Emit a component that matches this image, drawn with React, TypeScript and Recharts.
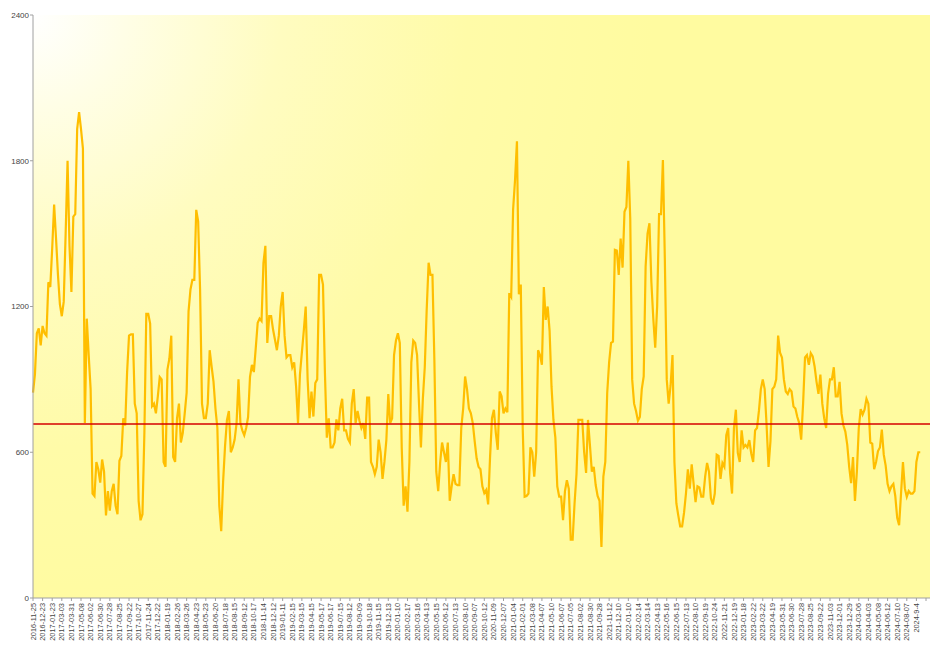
import React from 'react';
import { LineChart, Line, XAxis, YAxis, CartesianGrid, ReferenceLine } from 'recharts';

// Tick labels shown on the category axis (one every 5 samples); last tick has no label
const tickLabels: string[] = [
  '2016-11-25', '2016-12-23',
  '2017-01-23', '2017-03-03', '2017-03-31', '2017-05-08', '2017-06-02', '2017-06-30',
  '2017-07-28', '2017-08-25', '2017-09-22', '2017-10-27', '2017-11-24', '2017-12-22',
  '2018-01-19', '2018-02-26', '2018-03-26', '2018-04-23', '2018-05-23', '2018-06-20',
  '2018-07-18', '2018-08-15', '2018-09-12', '2018-10-17', '2018-11-14', '2018-12-12',
  '2019-01-11', '2019-02-15', '2019-03-15', '2019-04-15', '2019-05-17', '2019-06-17',
  '2019-07-15', '2019-08-12', '2019-09-09', '2019-10-18', '2019-11-15', '2019-12-13',
  '2020-01-10', '2020-02-17', '2020-03-16', '2020-04-13', '2020-05-15', '2020-06-12',
  '2020-07-13', '2020-08-10', '2020-09-07', '2020-10-12', '2020-11-09', '2020-12-07',
  '2021-01-04', '2021-02-01', '2021-03-08', '2021-04-07', '2021-05-10', '2021-06-07',
  '2021-07-05', '2021-08-02', '2021-08-30', '2021-09-28', '2021-11-12', '2021-12-10',
  '2022-01-10', '2022-02-14', '2022-03-14', '2022-04-13', '2022-05-16', '2022-06-15',
  '2022-07-13', '2022-08-10', '2022-09-19', '2022-10-24', '2022-11-21', '2022-12-19',
  '2023-01-18', '2023-02-22', '2023-03-22', '2023-04-19', '2023-05-31', '2023-06-30',
  '2023-07-28', '2023-08-25', '2023-09-22', '2023-11-03', '2023-12-01', '2023-12-29',
  '2024-03-06', '2024-04-03', '2024-05-08', '2024-06-12', '2024-07-10', '2024-08-07',
  '2024-9-4', '',
];

const SAMPLES_PER_TICK = 5;

// Series values (5 samples per labelled tick)
const volume: number[] = [
  845, 920, 1090, 1110, 1040,
  1120, 1090, 1080, 1300, 1280,
  1440, 1620, 1480, 1330, 1210,
  1160, 1220, 1500, 1800, 1450,
  1260, 1570, 1580, 1930, 2000,
  1930, 1850, 720, 1150, 1000,
  860, 430, 420, 560, 530,
  475, 570, 520, 340, 440,
  360, 440, 470, 380, 345,
  565, 585, 740, 710, 930,
  1080, 1085, 1085, 800, 760,
  400, 320, 345, 680, 1170,
  1170, 1130, 790, 800, 760,
  830, 910, 900, 560, 540,
  940, 985, 1080, 580, 560,
  740, 800, 640, 680, 760,
  845, 1180, 1270, 1310, 1310,
  1598, 1550, 1270, 800, 740,
  740, 800, 1020, 953, 890,
  780, 700, 380, 275, 480,
  625, 733, 770, 600, 620,
  652, 720, 900, 720, 690,
  670, 700, 745, 910, 960,
  930, 1030, 1133, 1150, 1140,
  1380, 1450, 1050, 1160, 1160,
  1105, 1063, 1020, 1080, 1200,
  1260, 1080, 990, 1000, 1000,
  950, 970, 870, 720, 920,
  1010, 1100, 1200, 900, 740,
  850, 747, 885, 900, 1330,
  1330, 1290, 930, 660, 740,
  620, 620, 640, 735, 690,
  780, 820, 690, 690, 655,
  640, 800, 860, 720, 770,
  730, 700, 720, 655, 825,
  825, 560, 540, 510, 540,
  652, 600, 490, 560, 650,
  840, 720, 740, 1000, 1060,
  1090, 1050, 620, 380, 460,
  355, 560, 970, 1060, 1050,
  1000, 800, 620, 820, 950,
  1186, 1380, 1330, 1330, 980,
  520, 440, 556, 640, 600,
  560, 640, 400, 460, 510,
  470, 465, 465, 700, 780,
  912, 860, 780, 760, 720,
  645, 575, 540, 530, 460,
  432, 445, 385, 580, 740,
  775, 680, 610, 850, 830,
  760, 780, 765, 1255, 1240,
  1600, 1720, 1880, 1250, 1290,
  700, 417, 420, 430, 620,
  600, 500, 600, 1020, 1000,
  960, 1280, 1145, 1200, 1100,
  870, 733, 660, 460, 417,
  417, 320, 440, 485, 450,
  240, 240, 390, 510, 733,
  733, 733, 600, 515, 733,
  630, 520, 540, 465, 420,
  400, 210, 500, 560, 845,
  970, 1050, 1055, 1433, 1430,
  1330, 1480, 1360, 1590, 1610,
  1800, 1560, 900, 800, 770,
  730, 745, 860, 912, 1365,
  1500, 1543, 1300, 1150, 1030,
  1200, 1580, 1580, 1803, 1400,
  900, 800, 875, 1000, 560,
  390, 340, 295, 295, 350,
  430, 530, 450, 550, 470,
  395, 460, 455, 417, 417,
  500, 556, 520, 410, 385,
  430, 590, 585, 490, 556,
  540, 670, 700, 515, 430,
  700, 775, 597, 560, 690,
  620, 630, 620, 650, 595,
  560, 690, 700, 770, 860,
  900, 860, 710, 540, 645,
  860, 870, 900, 1080, 1010,
  990, 900, 850, 840, 860,
  850, 788, 780, 745, 720,
  652, 800, 990, 1000, 960,
  1008, 995, 953, 890, 840,
  920, 800, 740, 700, 840,
  900, 900, 950, 830, 830,
  890, 760, 710, 685, 630,
  540, 473, 580, 400, 520,
  700, 778, 755, 775, 820,
  800, 640, 635, 530, 560,
  605, 620, 693, 590, 545,
  470, 440, 460, 470, 420,
  330, 300, 430, 560, 450,
  417, 440, 430, 430, 440,
  560, 600, 600,
];

const meanValue = 716;
const yTicks: number[] = [0, 600, 1200, 1800, 2400];

const totalPoints = (tickLabels.length - 1) * SAMPLES_PER_TICK + 1;
const data = Array.from({ length: totalPoints }, (_, i) => ({
  idx: i,
  value: i < volume.length ? volume[i] : null,
}));

const labelFor = (i: number): string =>
  i % SAMPLES_PER_TICK === 0 ? tickLabels[i / SAMPLES_PER_TICK] ?? '' : '';

const XTick = (props: any) => {
  const { x, y, payload } = props;
  const label = labelFor(Number(payload.value));
  if (!label) return null;
  return (
    <text
      x={x}
      y={y}
      transform={`rotate(-90 ${x} ${y})`}
      textAnchor="end"
      dy="0.35em"
      fontSize={7.4}
      fill="#444"
      fontFamily="Liberation Sans, Arial, sans-serif"
    >
      {label}
    </text>
  );
};

export default function App() {
  return (
    <div style={{ width: 922, height: 653 }}>
      <LineChart
        width={922}
        height={653}
        data={data}
        margin={{ top: 7, right: 0, bottom: 0, left: 0 }}
      >
        <defs>
          <radialGradient id="plotBg" gradientUnits="userSpaceOnUse" cx={25} cy={7} r={620}>
            <stop offset="0" stopColor="#FFFFFF" />
            <stop offset="0.15" stopColor="#FFFEE6" />
            <stop offset="0.4" stopColor="#FFFCC0" />
            <stop offset="0.7" stopColor="#FFFBA8" />
            <stop offset="1" stopColor="#FFFBA0" />
          </radialGradient>
        </defs>
        <CartesianGrid horizontal={false} vertical={false} fill="url(#plotBg)" stroke="none" />
        <XAxis
          dataKey="idx"
          type="category"
          interval={SAMPLES_PER_TICK - 1}
          tick={<XTick />}
          tickSize={3}
          tickMargin={2}
          height={63}
          padding={{ left: 0, right: 4 }}
          axisLine={{ stroke: '#A0A0A0' }}
          tickLine={{ stroke: '#A0A0A0' }}
        />
        <YAxis
          domain={[0, 2400]}
          ticks={yTicks}
          width={25}
          tickSize={3}
          tickMargin={1}
          axisLine={{ stroke: '#A0A0A0' }}
          tickLine={{ stroke: '#A0A0A0' }}
          tick={{ fontSize: 8, fill: '#444', fontFamily: 'Liberation Sans, Arial, sans-serif' }}
        />
        <Line
          type="linear"
          dataKey="value"
          stroke="#FFBE00"
          strokeWidth={2.2}
          dot={false}
          activeDot={false}
          isAnimationActive={false}
          connectNulls={false}
        />
        <ReferenceLine y={meanValue} stroke="#D40000" strokeWidth={1.5} />
      </LineChart>
    </div>
  );
}
